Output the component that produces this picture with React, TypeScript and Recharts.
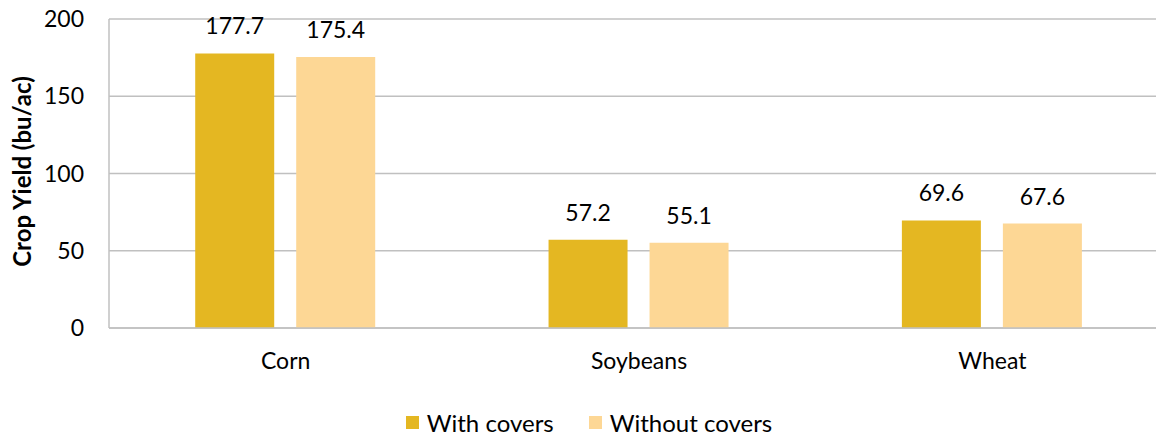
import { BarChart, Bar, XAxis, YAxis, CartesianGrid, Legend, LabelList } from "recharts";

const crops = ["Corn", "Soybeans", "Wheat"];
const withCovers = [177.7, 57.2, 69.6];
const withoutCovers = [175.4, 55.1, 67.6];
const yTicks = [0, 50, 100, 150, 200];

const series = [
  { key: "withCovers", name: "With covers", color: "#E4B722" },
  { key: "withoutCovers", name: "Without covers", color: "#FDD795" },
];

const data = crops.map((c, i) => ({
  crop: c,
  withCovers: withCovers[i],
  withoutCovers: withoutCovers[i],
}));

const font = "Lato, 'Open Sans', sans-serif";

function LegendBox() {
  return (
    <div
      style={{
        display: "flex",
        justifyContent: "center",
        alignItems: "center",
        height: 26,
        fontFamily: font,
        fontSize: 24,
        color: "#000",
        paddingRight: 32,
      }}
    >
      {series.map((s, i) => (
        <div key={s.key} style={{ display: "flex", alignItems: "center", marginLeft: i ? 35 : 0 }}>
          <span style={{ width: 13, height: 13, background: s.color, marginRight: 8, display: "inline-block" }} />
          <span>{s.name}</span>
        </div>
      ))}
    </div>
  );
}

export default function App() {
  return (
    <div style={{ position: "absolute", left: 0, top: 0, background: "#fff", overflow: "hidden", width: 1156, height: 435 }}>
      <BarChart
        width={1169}
        height={435}
        data={data}
        margin={{ top: 19, right: 0, left: 41, bottom: 0 }}
        barCategoryGap="24.4%"
        barGap={22}
      >
        <CartesianGrid vertical={false} stroke="#c0c0c0" strokeWidth={1.5} />
        <YAxis
          width={68}
          domain={[0, 200]}
          ticks={yTicks}
          interval={0}
          tickLine={false}
          tickSize={0}
          tickMargin={25}
          axisLine={{ stroke: "#c0c0c0", strokeWidth: 1.5 }}
          tick={{ fill: "#000", fontSize: 23, fontFamily: font }}
          label={{
            value: "Crop Yield (bu/ac)",
            angle: -90,
            position: "insideLeft",
            offset: -19,
            dy: -2,
            style: { textAnchor: "middle", fontWeight: 700, fontSize: 24, fill: "#000", fontFamily: font },
          }}
        />
        <XAxis
          dataKey="crop"
          height={81}
          tickLine={false}
          tickSize={0}
          tickMargin={25}
          axisLine={{ stroke: "#c0c0c0", strokeWidth: 1.5 }}
          tick={{ fill: "#000", fontSize: 23, fontFamily: font }}
        />
        <Legend verticalAlign="bottom" content={() => <LegendBox />} />
        {series.map((s) => (
          <Bar key={s.key} dataKey={s.key} name={s.name} fill={s.color} isAnimationActive={false}>
            <LabelList
              dataKey={s.key}
              position="top"
              offset={19}
              style={{ fill: "#000", fontSize: 23, fontFamily: font }}
            />
          </Bar>
        ))}
      </BarChart>
    </div>
  );
}
